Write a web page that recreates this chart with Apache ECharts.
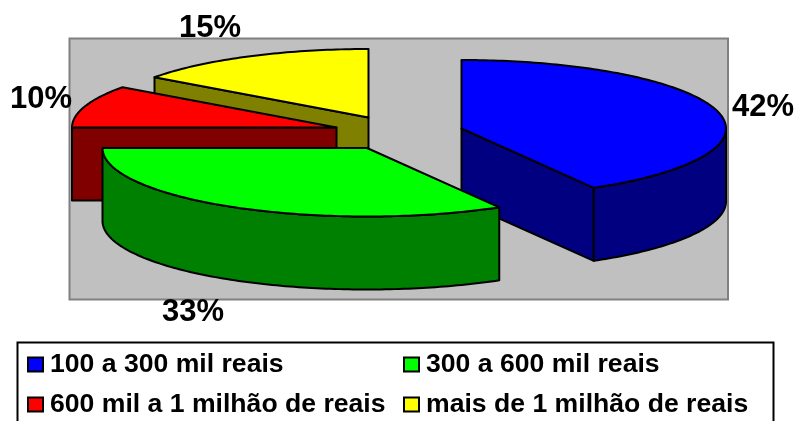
<!DOCTYPE html>
<html><head><meta charset="utf-8">
<style>html,body{margin:0;padding:0;background:#fff}#c{width:799px;height:421px}</style>
<script src="https://cdn.jsdelivr.net/npm/echarts@6/dist/echarts.min.js"></script>
</head><body><div id="c"></div>
<script>
const categories = ['100 a 300 mil reais', '300 a 600 mil reais', '600 mil a 1 milhão de reais', 'mais de 1 milhão de reais'];
const values = [25, 20, 6, 9];
const topColors = ['#0000FF', '#00FF00', '#FF0000', '#FFFF00'];
const sideColors = ['#000080', '#008000', '#800000', '#808000'];
const apexX = [461.5, 367, 336.5, 368.5];
const apexY = [128.5, 148, 127.5, 117.5];
const labelX = [763, 193, 41, 210];
const labelY = [107, 312, 99, 28];
const paintOrder = [2, 3, 1, 0];
const RX = 264.5, RY = 68.5, DEPTH = 73;
const total = values.reduce((a, b) => a + b, 0);
const starts = values.map((_, i) => values.slice(0, i).reduce((a, b) => a + b, 0) / total * 360);

function rad(d) { return d * Math.PI / 180; }
function rim(cx, cy, deg, dz) { return [cx + RX * Math.sin(rad(deg)), cy - RY * Math.cos(rad(deg)) + dz]; }
function arc(cx, cy, a0, a1, dz) {
  const pts = [], n = Math.max(2, Math.ceil(Math.abs(a1 - a0)));
  for (let k = 0; k <= n; k++) pts.push(rim(cx, cy, a0 + (a1 - a0) * k / n, dz));
  return pts;
}
const edge = { stroke: '#000', lineWidth: 2, lineJoin: 'round' };
function poly(points, fill) { return { type: 'polygon', shape: { points }, style: Object.assign({ fill }, edge) }; }

function renderSlice(i) {
  return function (params, api) {
    const v = api.value(0), cx = apexX[i], cy = apexY[i];
    const a0 = starts[i], a1 = a0 + v / total * 360;
    const kids = [], side = sideColors[i];
    const wall = a => poly([[cx, cy], rim(cx, cy, a, 0), rim(cx, cy, a, DEPTH), [cx, cy + DEPTH]], side);
    if (Math.sin(rad(a0)) < -1e-6) kids.push(wall(a0));
    if (Math.sin(rad(a1)) > 1e-6) kids.push(wall(a1));
    const w0 = Math.max(a0, 90), w1 = Math.min(a1, 270);
    if (w1 > w0) kids.push(poly(arc(cx, cy, w0, w1, 0).concat(arc(cx, cy, w1, w0, DEPTH)), side));
    kids.push(poly([[cx, cy]].concat(arc(cx, cy, a0, a1, 0)), topColors[i]));
    kids.push({
      type: 'text', z2: 50,
      style: {
        text: Math.round(v / total * 100) + '%', x: labelX[i], y: labelY[i],
        align: 'center', verticalAlign: 'middle', fill: '#000',
        font: 'bold 31px "Liberation Sans", Arial, sans-serif'
      }
    });
    return { type: 'group', children: kids };
  };
}

const legendBase = {
  orient: 'vertical', selectedMode: false, itemWidth: 15, itemHeight: 14, itemGap: 13, padding: 0,
  icon: 'rect', top: 351,
  itemStyle: { borderColor: '#000', borderWidth: 2 },
  textStyle: { fontFamily: '"Liberation Sans", Arial, sans-serif', fontWeight: 'bold', fontSize: 26.6, color: '#000', padding: [0, 0, 0, 2] }
};

const chart = echarts.init(document.getElementById('c'), null, { renderer: 'canvas' });
chart.setOption({
  animation: false,
  backgroundColor: '#fff',
  legend: [
    Object.assign({}, legendBase, { left: 27, data: [categories[0], categories[2]] }),
    Object.assign({}, legendBase, { left: 403, data: [categories[1], categories[3]] })
  ],
  graphic: [
    { type: 'rect', z: -2, silent: true, shape: { x: 69.5, y: 38.5, width: 658.5, height: 261 },
      style: { fill: '#C0C0C0', stroke: '#808080', lineWidth: 2 } },
    { type: 'rect', z: -2, silent: true, shape: { x: 17.5, y: 342.5, width: 756, height: 90 },
      style: { fill: '#fff', stroke: '#000', lineWidth: 2 } }
  ],
  series: categories.map((name, i) => ({
    type: 'custom', name, coordinateSystem: 'none', silent: true,
    z: 2 + paintOrder[i],
    itemStyle: { color: topColors[i] },
    data: [[values[i]]],
    renderItem: renderSlice(i)
  }))
});
</script></body></html>
